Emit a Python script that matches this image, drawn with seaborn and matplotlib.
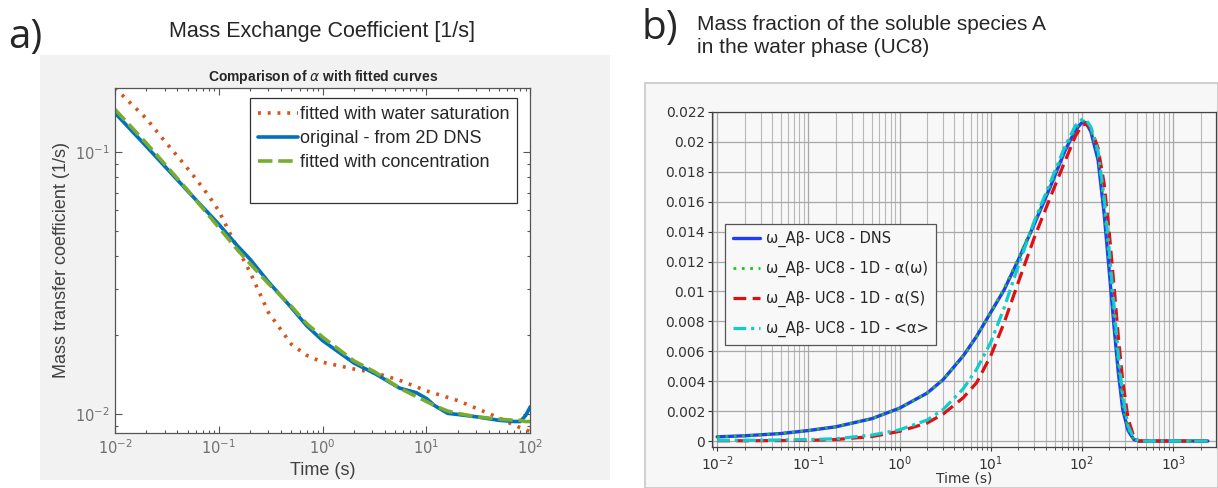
import matplotlib
matplotlib.use("Agg")
import matplotlib.pyplot as plt
import matplotlib.ticker as mticker
from matplotlib.patches import Rectangle
from matplotlib.lines import Line2D
import seaborn as sns

# ---- panel a) : mass transfer coefficient vs time (log-log)
t_alpha = [0.01, 0.02, 0.05, 0.1, 0.15, 0.2, 0.3, 0.5, 0.7, 1, 2, 3.2, 5.5, 8, 10,
           12, 16, 20, 30, 50, 70, 80, 90, 100]
alpha_dns = [0.1406, 0.105, 0.071, 0.053, 0.044, 0.039, 0.032, 0.0255, 0.0218, 0.0191,
             0.0157, 0.0143, 0.0126, 0.0121, 0.0115, 0.0108, 0.0101, 0.0100, 0.0098,
             0.0095, 0.0094, 0.0094, 0.0099, 0.0107]
alpha_conc = [0.145, 0.108, 0.0715, 0.0515, 0.0425, 0.0375, 0.0315, 0.0258, 0.0222, 0.0197,
              0.0160, 0.0145, 0.0126, 0.0117, 0.0112, 0.0108, 0.0103, 0.0101, 0.0098,
              0.0096, 0.0095, 0.0095, 0.0094, 0.0094]
t_sat = [0.01, 0.02, 0.03, 0.045, 0.06, 0.08, 0.1, 0.15, 0.2, 0.3, 0.5, 0.7, 1, 2, 3.2,
         5.5, 10, 20, 35, 50, 70, 100]
alpha_sat = [0.175, 0.134, 0.110, 0.091, 0.079, 0.068, 0.0596, 0.0432, 0.0348, 0.0245,
             0.0185, 0.0168, 0.0158, 0.0149, 0.0144, 0.0135, 0.0123, 0.0113, 0.0103,
             0.0097, 0.0091, 0.0086]

# ---- panel b) : mass fraction of species A in water phase
t_frac = [0.01, 0.02, 0.05, 0.1, 0.2, 0.5, 1, 2, 3, 5, 7, 10, 14, 20, 30, 45, 65, 85,
          100, 110, 125, 150, 175, 200, 225, 250, 280, 320, 370, 420, 500, 1000, 2400]
w_dns = [0.00028, 0.00035, 0.0005, 0.0007, 0.00095, 0.0015, 0.0022, 0.0032, 0.0041,
         0.0057, 0.0070, 0.0086, 0.0101, 0.0121, 0.0145, 0.0170, 0.0194, 0.0208,
         0.0213, 0.0213, 0.0207, 0.0188, 0.0152, 0.0112, 0.0076, 0.0046, 0.0021,
         0.0007, 0.0001, 0.0, 0.0, 0.0, 0.0]
w_1d_omega = [0.00028, 0.00035, 0.0005, 0.0007, 0.00095, 0.0015, 0.0022, 0.0032, 0.0041,
              0.0057, 0.0070, 0.0086, 0.0102, 0.0122, 0.0146, 0.0171, 0.0195, 0.0209,
              0.0214, 0.0214, 0.0209, 0.0191, 0.0156, 0.0117, 0.0081, 0.0050, 0.0024,
              0.0008, 0.0001, 0.0, 0.0, 0.0, 0.0]
w_1d_s = [0.00002, 0.00002, 0.00003, 0.00005, 0.0001, 0.0003, 0.00065, 0.0012, 0.0018,
          0.0029, 0.0039, 0.0057, 0.0079, 0.0106, 0.0136, 0.0163, 0.0187, 0.0204,
          0.0211, 0.0212, 0.0209, 0.0196, 0.0172, 0.0138, 0.0103, 0.0070, 0.0040,
          0.0015, 0.0003, 0.0, 0.0, 0.0, 0.0]
w_1d_mean = [0.00005, 0.00005, 0.00007, 0.0001, 0.00015, 0.0004, 0.00075, 0.0014, 0.0021,
             0.0035, 0.0048, 0.0066, 0.0089, 0.0117, 0.0147, 0.0173, 0.0197, 0.0211,
             0.0215, 0.0215, 0.0210, 0.0194, 0.0163, 0.0126, 0.0090, 0.0058, 0.0030,
             0.0010, 0.0002, 0.0, 0.0, 0.0, 0.0]

sns.set_style("ticks")
plt.rcParams["font.family"] = ["DejaVu Sans"]

fig = plt.figure(figsize=(12.18, 4.88), dpi=100)
fig.patch.set_facecolor("white")

# background panels (matlab figure / comsol window)
fig.patches.append(Rectangle((40 / 1218, 8 / 488), 570 / 1218, 425 / 488,
                             transform=fig.transFigure, facecolor="#f2f2f2",
                             edgecolor="none", zorder=-5))
fig.patches.append(Rectangle((645 / 1218, 0.0), 573 / 1218, 405 / 488,
                             transform=fig.transFigure, facecolor="#f7f7f7",
                             edgecolor="#c8c8c8", lw=1.2, zorder=-5))

# ================= panel a =================
mfont = "Liberation Sans"
ax1 = fig.add_axes([0.0944, 0.1127, 0.341, 0.707])
ax1.set_facecolor("white")
sns.lineplot(x=t_sat, y=alpha_sat, ax=ax1, color="#D95319", lw=2.6,
             linestyle=(0, (0.8, 1.9)), label="fitted with water saturation")
sns.lineplot(x=t_alpha, y=alpha_dns, ax=ax1, color="#0072BD", lw=2.6,
             label="original - from 2D DNS")
sns.lineplot(x=t_alpha, y=alpha_conc, ax=ax1, color="#77AC30", lw=2.6,
             linestyle=(0, (4, 1.6)), label="fitted with concentration")
ax1.set_xscale("log")
ax1.set_yscale("log")
ax1.set_xlim(0.01, 100)
ax1.set_ylim(0.0085, 0.175)
ax1.set_xticks([0.01, 0.1, 1, 10, 100])
ax1.set_yticks([0.01, 0.1])
ax1.xaxis.set_major_formatter(mticker.LogFormatterSciNotation())
ax1.yaxis.set_major_formatter(mticker.LogFormatterSciNotation())
ax1.tick_params(which="both", direction="in", top=True, right=True,
                colors="#555555", labelsize=10.5, width=0.8)
ax1.tick_params(which="major", length=5)
ax1.tick_params(which="minor", length=2.5)
for lab in ax1.get_xticklabels() + ax1.get_yticklabels():
    lab.set_color("#707070")
for sp in ax1.spines.values():
    sp.set_color("#555555")
    sp.set_linewidth(0.9)
ax1.set_xlabel("Time (s)", fontsize=13, color="#404040", family=mfont, labelpad=4)
ax1.set_ylabel("Mass transfer coefficient (1/s)", fontsize=13, color="#404040",
               family=mfont, labelpad=4)
ax1.set_title(r"Comparison of $\alpha$ with fitted curves", fontsize=10,
              fontweight="bold", family=mfont, pad=5)
h1, l1 = ax1.get_legend_handles_labels()
h1.append(Line2D([], [], color="none"))
l1.append(" ")
leg1 = ax1.legend(h1, l1, loc="upper right", bbox_to_anchor=(0.99, 0.997),
                  prop={"family": mfont, "size": 13},
                  frameon=True, fancybox=False, edgecolor="#333333", framealpha=1,
                  handlelength=2.2, handletextpad=0.1, borderpad=0.45, labelspacing=0.38)
leg1.get_frame().set_linewidth(0.9)

# ================= panel b =================
ax2 = fig.add_axes([0.5846, 0.0840, 0.4138, 0.6865])
ax2.set_facecolor("#f8f8f8")
sns.lineplot(x=t_frac, y=w_dns, ax=ax2, color="#1f3dff", lw=2.4,
             label="ω_Aβ- UC8 - DNS")
sns.lineplot(x=t_frac, y=w_1d_omega, ax=ax2, color="#22c022", lw=2.0,
             linestyle=(0, (1, 2)), label="ω_Aβ- UC8 - 1D - α(ω)")
sns.lineplot(x=t_frac, y=w_1d_s, ax=ax2, color="#dd1111", lw=2.3,
             linestyle=(0, (4, 2)), label="ω_Aβ- UC8 - 1D - α(S)")
sns.lineplot(x=t_frac, y=w_1d_mean, ax=ax2, color="#11cccc", lw=2.3,
             linestyle=(0, (4, 1.5, 1, 1.5)), label="ω_Aβ- UC8 - 1D - <α>")
ax2.set_xscale("log")
ax2.set_xlim(0.0088, 2950)
ax2.set_ylim(-0.0004, 0.022)
ax2.set_yticks([0, 0.002, 0.004, 0.006, 0.008, 0.01, 0.012, 0.014, 0.016, 0.018, 0.02, 0.022])
ax2.set_yticklabels(["0", "0.002", "0.004", "0.006", "0.008", "0.01", "0.012", "0.014",
                     "0.016", "0.018", "0.02", "0.022"])
ax2.set_xticks([0.01, 0.1, 1, 10, 100, 1000])
ax2.xaxis.set_major_formatter(mticker.LogFormatterSciNotation())
ax2.xaxis.set_minor_locator(mticker.LogLocator(base=10, subs=range(2, 10), numticks=20))
ax2.grid(True, which="major", axis="both", color="#a8a8a8", lw=0.9)
ax2.grid(True, which="minor", axis="x", color="#b8b8b8", lw=0.8)
ax2.set_axisbelow(True)
ax2.tick_params(which="both", direction="out", colors="#333333", labelsize=10)
ax2.tick_params(which="major", length=3, pad=2)
ax2.tick_params(which="minor", length=2)
for sp in ax2.spines.values():
    sp.set_color("#444444")
    sp.set_linewidth(0.9)
ax2.set_xlabel("Time (s)", fontsize=10, color="#333333", labelpad=-1)
ax2.set_ylabel("")
leg2 = ax2.legend(loc="upper left", bbox_to_anchor=(0.012, 0.688), fontsize=10.5,
                  frameon=True, fancybox=False, edgecolor="#555555", facecolor="#f8f8f8",
                  framealpha=1, handlelength=1.9, handletextpad=0.4, borderpad=0.5,
                  labelspacing=0.95)
leg2.get_frame().set_linewidth(0.9)

# ---- panel labels and headings
fig.text(25 / 1218, 1 - 38 / 488, "a)", fontsize=29, ha="center", va="center",
         family="Open Sans")
fig.text(322 / 1218, 1 - 31 / 488, "Mass Exchange Coefficient [1/s]", fontsize=15.5,
         ha="center", va="center", family=mfont)
fig.text(660 / 1218, 1 - 29 / 488, "b)", fontsize=29, ha="center", va="center",
         family="Open Sans")
fig.text(697 / 1218, 1 - 36 / 488, "Mass fraction of the soluble species A\nin the water phase (UC8)",
         fontsize=15, ha="left", va="center", family=mfont, linespacing=1.25)

fig.savefig("out.png", dpi=100)
